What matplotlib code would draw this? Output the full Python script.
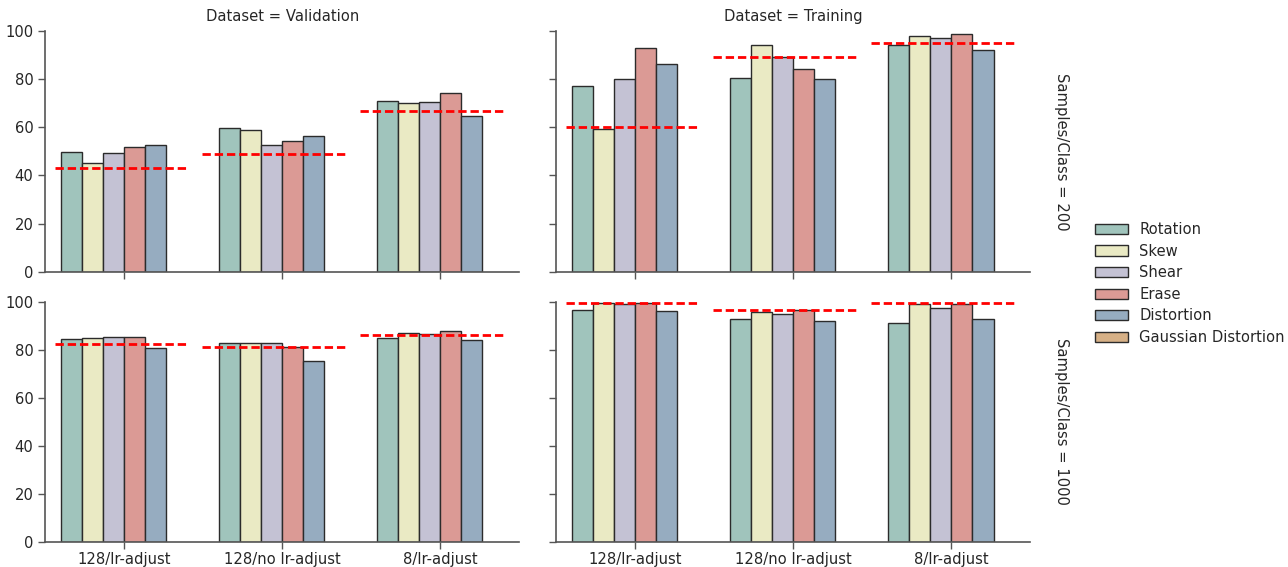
import matplotlib
matplotlib.use('Agg')
import matplotlib.pyplot as plt
from matplotlib.patches import Patch
import numpy as np

groups = ['128/lr-adjust', '128/no lr-adjust', '8/lr-adjust']
methods = ['Rotation', 'Skew', 'Shear', 'Erase', 'Distortion', 'Gaussian Distortion']
colors = ['#a0c4bc', '#eaeac4', '#c4c2d4', '#db9a95', '#96acc0', '#d6b086']

# rows: method, cols: group  (Gaussian Distortion has no values)
val_200 = [[49.7, 59.6, 71.1],
           [45.1, 59.0, 70.1],
           [49.3, 52.6, 70.7],
           [51.7, 54.4, 74.3],
           [52.6, 56.3, 64.6]]
train_200 = [[77.0, 80.6, 94.2],
             [59.4, 94.2, 97.9],
             [80.2, 89.1, 97.0],
             [93.2, 84.3, 98.8],
             [86.3, 80.2, 92.2]]
val_1000 = [[84.4, 82.7, 84.9],
            [84.9, 82.7, 87.1],
            [85.3, 82.7, 86.7],
            [85.3, 81.2, 87.7],
            [80.8, 75.2, 84.0]]
train_1000 = [[96.5, 92.7, 91.3],
              [99.4, 95.6, 98.9],
              [98.9, 94.7, 97.5],
              [99.4, 96.5, 98.9],
              [96.0, 91.8, 92.7]]

baseline_val_200 = [43.1, 49.0, 66.7]
baseline_train_200 = [60.2, 89.1, 95.2]
baseline_val_1000 = [82.4, 81.2, 86.2]
baseline_train_1000 = [99.4, 96.4, 99.4]

panels = [[(val_200, baseline_val_200), (train_200, baseline_train_200)],
          [(val_1000, baseline_val_1000), (train_1000, baseline_train_1000)]]
col_titles = ['Dataset = Validation', 'Dataset = Training']
row_titles = ['Samples/Class = 200', 'Samples/Class = 1000']

text_col = '#262626'
spine_col = '#555555'
fs = 10.6

fig, axes = plt.subplots(2, 2, figsize=(12.88, 5.67), dpi=100, sharey=True)
plt.subplots_adjust(left=0.035, right=0.80, bottom=0.044, top=0.945,
                    wspace=0.078, hspace=0.125)

x = np.arange(len(groups))
n = len(methods)
w = 0.8 / n
dash_start = [-0.44, -0.51, -0.51]

for r in range(2):
    for c in range(2):
        ax = axes[r][c]
        vals, base = panels[r][c]
        for i, v in enumerate(vals):
            ax.bar(x - 0.4 + w * i + w / 2, v, width=w, color=colors[i],
                   edgecolor='#2b2b2b', linewidth=1.0, zorder=2)
        for g in range(len(groups)):
            ax.plot([x[g] + dash_start[g], x[g] + 0.4], [base[g], base[g]],
                    color='red', linestyle='--', linewidth=2, dashes=(3, 1.4), zorder=3)
        ax.set_xlim(-0.5, 2.5)
        ax.set_ylim(0, 100)
        ax.set_yticks([0, 20, 40, 60, 80, 100])
        ax.set_xticks(x)
        if r == 1:
            ax.set_xticklabels(groups)
        else:
            ax.set_xticklabels([])
        for s in ['top', 'right']:
            ax.spines[s].set_visible(False)
        for s in ['left', 'bottom']:
            ax.spines[s].set_color(spine_col)
            ax.spines[s].set_linewidth(1.2)
        ax.tick_params(colors=spine_col, labelcolor=text_col, labelsize=fs,
                       length=5, width=1)
        ax.tick_params(axis='x', pad=2)
        if c == 1:
            ax.tick_params(labelleft=False)
        if r == 0:
            ax.set_title(col_titles[c], fontsize=fs, color=text_col, pad=7)
        if c == 1:
            ax.text(1.065, 0.5, row_titles[r], transform=ax.transAxes, rotation=270,
                    ha='center', va='center', fontsize=fs, color=text_col)

handles = [Patch(facecolor=colors[i], edgecolor='#2b2b2b', label=methods[i])
           for i in range(n)]
leg = fig.legend(handles=handles, loc='center left', bbox_to_anchor=(0.84, 0.5),
                 frameon=False, fontsize=fs, handlelength=2.2, handletextpad=0.8,
                 labelspacing=0.45)
for t in leg.get_texts():
    t.set_color(text_col)

plt.savefig('out.png', dpi=100)
